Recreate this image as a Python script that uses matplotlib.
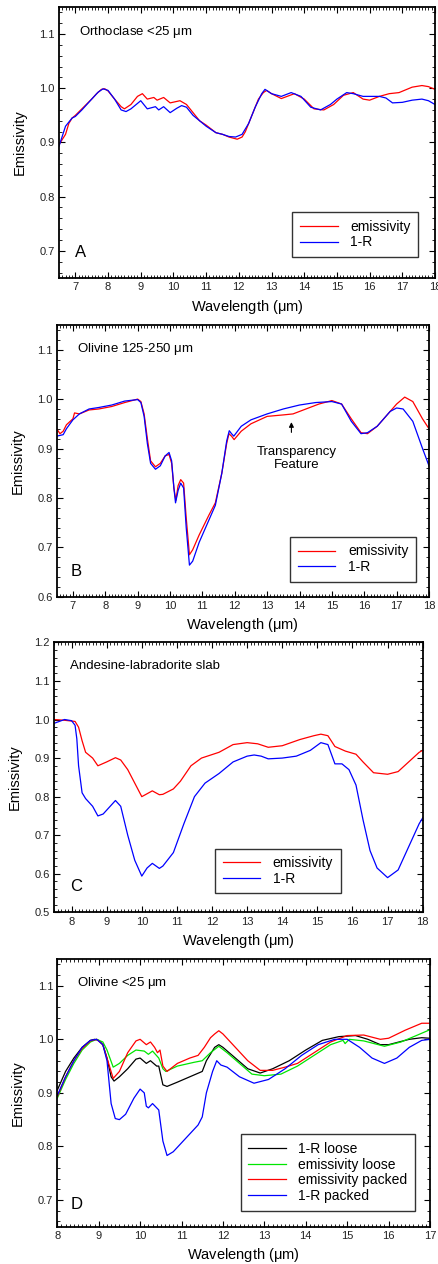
import matplotlib
matplotlib.use("Agg")
import matplotlib.pyplot as plt
from matplotlib.ticker import MultipleLocator
import numpy as np

plt.rcParams['font.family'] = ['Liberation Sans', 'DejaVu Sans']
plt.rcParams['mathtext.fontset'] = 'custom'
plt.rcParams['mathtext.rm'] = 'Liberation Sans'

# ---- Panel A: Orthoclase <25 um ----
a_emis_x = [6.5, 6.7, 6.8, 6.9, 7.0, 7.2, 7.5, 7.65, 7.8, 7.9, 8.0, 8.2, 8.4, 8.5, 8.7, 8.9, 9.05, 9.2, 9.4, 9.5,
            9.7, 9.9, 10.2, 10.4, 10.6, 10.8, 11.0, 11.3, 11.5, 11.7, 11.95, 12.1, 12.2, 12.4, 12.6, 12.75, 12.85,
            13.0, 13.3, 13.7, 14.0, 14.3, 14.6, 14.9, 15.2, 15.5, 15.8, 16.0, 16.3, 16.6, 16.9, 17.3,
            17.6, 17.8, 18.0]
a_emis_y = [0.896, 0.915, 0.935, 0.945, 0.95, 0.962, 0.98, 0.99, 0.998, 0.999, 0.995, 0.98, 0.966, 0.962, 0.97, 0.985,
            0.99, 0.98, 0.983, 0.978, 0.983, 0.973, 0.977, 0.97, 0.955, 0.94, 0.932, 0.918, 0.915, 0.91,
            0.906, 0.91, 0.92, 0.95, 0.98, 0.992, 0.996, 0.99, 0.981, 0.99, 0.98, 0.962, 0.96, 0.97, 0.987, 0.992,
            0.98, 0.978, 0.985, 0.99, 0.992, 1.002, 1.005, 1.003, 0.998]
a_1r_x = [6.5, 6.7, 6.9, 7.0, 7.2, 7.5, 7.7, 7.85, 8.0, 8.2, 8.4, 8.55, 8.7, 8.9, 9.0, 9.2, 9.45, 9.55, 9.7,
          9.9, 10.1, 10.25, 10.4, 10.6, 10.8, 11.0, 11.3, 11.5, 11.7, 11.9, 12.1, 12.3, 12.5, 12.7, 12.8,
          13.0, 13.3, 13.6, 13.9, 14.2, 14.5, 14.8, 15.0, 15.3, 15.5, 15.8, 16.3, 16.5, 16.7, 17.0,
          17.3, 17.6, 17.8, 18.0]
a_1r_y = [0.893, 0.93, 0.945, 0.948, 0.96, 0.98, 0.993, 0.999, 0.996, 0.98, 0.96, 0.957, 0.962, 0.972, 0.977,
          0.962, 0.966, 0.96, 0.966, 0.955, 0.963, 0.968, 0.965, 0.95, 0.94, 0.93, 0.918, 0.915, 0.911,
          0.91, 0.915, 0.935, 0.965, 0.99, 0.998, 0.99, 0.985, 0.992, 0.985, 0.965, 0.96, 0.97, 0.98,
          0.992, 0.99, 0.985, 0.985, 0.982, 0.973, 0.974, 0.978, 0.98, 0.977, 0.97]

# ---- Panel B: Olivine 125-250 um ----
b_emis_x = [6.5, 6.6, 6.7, 6.8, 7.0, 7.05, 7.2, 7.5, 7.8, 8.2, 8.6, 9.0, 9.1, 9.2, 9.3, 9.4, 9.55, 9.7,
            9.85, 9.97, 10.05, 10.12, 10.18, 10.25, 10.33, 10.42, 10.5, 10.6, 10.7, 10.9, 11.2, 11.4,
            11.6, 11.75, 11.82, 11.9, 11.98, 12.2, 12.5, 13.0, 13.5, 13.8, 14.2, 14.6, 15.0, 15.3, 15.6,
            15.9, 16.1, 16.4, 16.8, 17.0, 17.25, 17.5, 17.8, 18.0]
b_emis_y = [0.94, 0.93, 0.935, 0.948, 0.96, 0.972, 0.97, 0.978, 0.98, 0.985, 0.993, 1.0, 0.995, 0.97,
            0.92, 0.875, 0.863, 0.87, 0.885, 0.888, 0.87, 0.82, 0.795, 0.825, 0.837, 0.83, 0.76, 0.685,
            0.695, 0.725, 0.765, 0.79, 0.85, 0.91, 0.93, 0.925, 0.918, 0.935, 0.95, 0.965, 0.968, 0.97,
            0.98, 0.99, 0.997, 0.99, 0.96, 0.932, 0.93, 0.945, 0.975, 0.99, 1.004, 0.995, 0.96, 0.94]
b_1r_x = [6.5, 6.7, 6.8, 7.0, 7.2, 7.5, 7.8, 8.2, 8.6, 9.0, 9.1, 9.2, 9.3, 9.4, 9.55, 9.7, 9.85, 9.97,
          10.05, 10.12, 10.17, 10.25, 10.33, 10.42, 10.5, 10.6, 10.7, 10.9, 11.2, 11.4, 11.6, 11.75,
          11.83, 11.9, 11.97, 12.2, 12.5, 13.0, 13.5, 14.0, 14.5, 15.0, 15.3, 15.6, 15.9, 16.1, 16.4,
          16.8, 17.0, 17.2, 17.5, 17.8, 18.0]
b_1r_y = [0.925, 0.928, 0.94, 0.958, 0.97, 0.98, 0.983, 0.988, 0.996, 0.999, 0.993, 0.965, 0.91, 0.87,
          0.858, 0.865, 0.885, 0.892, 0.875, 0.82, 0.79, 0.815, 0.83, 0.82, 0.74, 0.664, 0.672, 0.71,
          0.755, 0.785, 0.85, 0.915, 0.936, 0.93, 0.925, 0.945, 0.958, 0.97, 0.98, 0.988, 0.993, 0.995,
          0.99, 0.955, 0.93, 0.932, 0.945, 0.975, 0.982, 0.98, 0.955, 0.9, 0.865]

# ---- Panel C: Andesine-labradorite slab ----
c_emis_x = [7.5, 7.8, 8.1, 8.2, 8.3, 8.4, 8.6, 8.75, 9.0, 9.25, 9.4, 9.6, 9.8, 10.0, 10.1, 10.3, 10.5,
            10.6, 10.9, 11.1, 11.4, 11.7, 12.2, 12.6, 13.0, 13.3, 13.6, 14.0, 14.5, 14.9, 15.1, 15.3,
            15.5, 15.8, 16.1, 16.3, 16.6, 17.0, 17.3, 17.6, 17.9, 18.0]
c_emis_y = [1.0, 0.998, 0.995, 0.98, 0.945, 0.915, 0.9, 0.88, 0.89, 0.901, 0.895, 0.87, 0.835, 0.8,
            0.805, 0.815, 0.805, 0.806, 0.82, 0.84, 0.88, 0.9, 0.915, 0.935, 0.94, 0.937, 0.928, 0.932,
            0.948, 0.958, 0.962, 0.958, 0.93, 0.918, 0.91, 0.89, 0.862, 0.858, 0.865, 0.89, 0.915, 0.92]
c_1r_x = [7.5, 7.8, 8.0, 8.1, 8.15, 8.2, 8.3, 8.4, 8.6, 8.75, 8.9, 9.1, 9.25, 9.4, 9.6, 9.8, 10.0, 10.15,
          10.3, 10.5, 10.6, 10.9, 11.2, 11.5, 11.8, 12.2, 12.6, 13.0, 13.2, 13.4, 13.6, 14.0, 14.4, 14.8,
          15.1, 15.3, 15.5, 15.7, 15.9, 16.1, 16.3, 16.5, 16.7, 17.0, 17.3, 17.6, 17.9, 18.0]
c_1r_y = [0.99, 1.0, 0.997, 0.985, 0.95, 0.88, 0.81, 0.795, 0.775, 0.75, 0.755, 0.775, 0.79, 0.775, 0.7,
          0.635, 0.594, 0.615, 0.627, 0.614, 0.62, 0.655, 0.73, 0.8, 0.835, 0.86, 0.89, 0.905, 0.908,
          0.905, 0.898, 0.9, 0.905, 0.92, 0.94, 0.935, 0.885, 0.885, 0.87, 0.83, 0.74, 0.66, 0.615, 0.59,
          0.61, 0.67, 0.73, 0.745]

# ---- Panel D: Olivine <25 um ----
d_1r_loose_x = [8.0, 8.2, 8.4, 8.6, 8.8, 8.9, 9.0, 9.1, 9.2, 9.3, 9.37, 9.5, 9.7, 9.9, 10.0, 10.15, 10.25,
                10.4, 10.45, 10.55, 10.65, 10.9, 11.2, 11.5, 11.6, 11.8, 11.9, 12.0, 12.3, 12.6, 12.9,
                13.2, 13.6, 14.0, 14.4, 14.8, 15.2, 15.5, 15.8, 16.0, 16.5, 16.8, 17.0]
d_1r_loose_y = [0.905, 0.94, 0.965, 0.985, 0.998, 1.0, 0.998, 0.99, 0.965, 0.93, 0.922, 0.93, 0.945, 0.963,
                0.965, 0.955, 0.96, 0.95, 0.95, 0.915, 0.912, 0.92, 0.93, 0.94, 0.96, 0.985, 0.99, 0.985,
                0.965, 0.945, 0.937, 0.945, 0.96, 0.98, 0.998, 1.005, 1.007, 1.0, 0.99, 0.99, 1.0, 1.003,
                1.002]
d_emis_loose_x = [8.0, 8.2, 8.4, 8.6, 8.8, 8.95, 9.1, 9.2, 9.35, 9.5, 9.7, 9.9, 10.1, 10.2, 10.3, 10.45,
                  10.55, 10.62, 10.9, 11.3, 11.5, 11.7, 11.9, 12.1, 12.4, 12.7, 13.0, 13.4, 13.8, 14.2,
                  14.6, 14.9, 14.95, 15.05, 15.4, 15.9, 16.3, 16.7, 17.0]
d_emis_loose_y = [0.89, 0.925, 0.955, 0.98, 0.995, 1.0, 0.995, 0.98, 0.948, 0.955, 0.97, 0.98, 0.978,
                  0.972, 0.978, 0.965, 0.945, 0.94, 0.95, 0.957, 0.96, 0.975, 0.987, 0.975, 0.955, 0.935,
                  0.932, 0.935, 0.95, 0.97, 0.99, 0.998, 0.992, 1.0, 0.997, 0.987, 0.995, 1.008, 1.018]
d_emis_packed_x = [8.0, 8.2, 8.4, 8.6, 8.8, 8.95, 9.1, 9.2, 9.35, 9.5, 9.7, 9.9, 10.0, 10.15, 10.25,
                   10.35, 10.42, 10.48, 10.55, 10.65, 10.9, 11.2, 11.4, 11.55, 11.7, 11.8, 11.9, 12.0,
                   12.3, 12.6, 12.9, 13.2, 13.5, 13.8, 14.2, 14.6, 15.0, 15.4, 15.8, 16.0, 16.4, 16.8, 17.0]
d_emis_packed_y = [0.893, 0.93, 0.96, 0.983, 0.997, 1.0, 0.99, 0.965, 0.927, 0.94, 0.975, 0.997, 1.0,
                   0.99, 0.995, 0.985, 0.975, 0.98, 0.95, 0.94, 0.955, 0.965, 0.97, 0.985, 1.003, 1.01,
                   1.016, 1.01, 0.985, 0.96, 0.942, 0.942, 0.948, 0.955, 0.975, 0.995, 1.007, 1.008, 1.0,
                   1.002, 1.017, 1.03, 1.03]
d_1r_packed_x = [8.0, 8.2, 8.4, 8.6, 8.8, 8.95, 9.1, 9.2, 9.25, 9.3, 9.4, 9.5, 9.65, 9.85, 10.0, 10.1,
                 10.15, 10.2, 10.3, 10.4, 10.45, 10.55, 10.65, 10.8, 11.1, 11.4, 11.5, 11.6, 11.75, 11.85,
                 11.95, 12.1, 12.4, 12.75, 13.1, 13.5, 13.9, 14.3, 14.7, 15.0, 15.3, 15.6, 15.9, 16.2,
                 16.5, 16.8, 17.0]
d_1r_packed_y = [0.895, 0.93, 0.96, 0.985, 0.998, 1.0, 0.99, 0.96, 0.92, 0.88, 0.852, 0.85, 0.86, 0.89,
                 0.907, 0.9, 0.875, 0.872, 0.88, 0.872, 0.868, 0.81, 0.783, 0.79, 0.815, 0.84, 0.855, 0.9,
                 0.94, 0.96, 0.952, 0.948, 0.93, 0.918, 0.925, 0.945, 0.97, 0.99, 1.0, 1.0, 0.985, 0.965,
                 0.955, 0.965, 0.985, 0.998, 1.0]

GREEN = '#00e600'
LW = 0.9


def style(ax, xlim, ylim, yticks, xticks):
    ax.set_xlim(*xlim)
    ax.set_ylim(*ylim)
    ax.set_xticks(xticks)
    ax.set_yticks(yticks)
    ax.xaxis.set_minor_locator(MultipleLocator(0.1))
    ax.yaxis.set_minor_locator(MultipleLocator(0.02))
    ax.tick_params(which='both', direction='in', top=True, right=True, labelsize=8, pad=3,
                   color='black', labelcolor='#222222')
    ax.tick_params(which='major', length=4.5, width=0.8)
    ax.tick_params(which='minor', length=2, width=0.6)
    for s in ax.spines.values():
        s.set_linewidth(1.3)
    ax.set_xlabel('Wavelength ($\\mathrm{\\mu}$m)', fontsize=10.5, labelpad=4)
    ax.set_ylabel('Emissivity', fontsize=10.5, labelpad=9)
    ax.yaxis.set_major_formatter(plt.FuncFormatter(lambda v, p: f'{v:.1f}'))


def legend(ax, anchor):
    leg = ax.legend(loc='lower right', bbox_to_anchor=anchor, fontsize=10, frameon=True, fancybox=False,
                    edgecolor='black', handlelength=2.7, borderpad=0.55, labelspacing=0.12,
                    handletextpad=0.9, borderaxespad=0)
    leg.get_frame().set_linewidth(1.0)


fig = plt.figure(figsize=(4.39, 12.64), dpi=100)

# A
ax = fig.add_axes([0.1344, 0.7801, 0.8565, 0.2144])
ax.plot(a_emis_x, a_emis_y, color='red', lw=LW, label='emissivity')
ax.plot(a_1r_x, a_1r_y, color='blue', lw=LW, label='1-R')
style(ax, (6.5, 18), (0.65, 1.15), [0.7, 0.8, 0.9, 1.0, 1.1], range(7, 19))
legend(ax, (0.955, 0.077))
ax.text(0.053, 0.909, 'Orthoclase <25 $\\mathrm{\\mu}$m', transform=ax.transAxes, fontsize=9.5, va='center')
ax.text(0.043, 0.093, 'A', transform=ax.transAxes, fontsize=12, va='center')

# B
ax = fig.add_axes([0.1292, 0.5279, 0.848, 0.2150])
ax.plot(b_emis_x, b_emis_y, color='red', lw=LW, label='emissivity')
ax.plot(b_1r_x, b_1r_y, color='blue', lw=LW, label='1-R')
style(ax, (6.5, 18), (0.6, 1.15), [0.6, 0.7, 0.8, 0.9, 1.0, 1.1], range(7, 19))
legend(ax, (0.965, 0.055))
ax.text(0.054, 0.91, 'Olivine 125-250 $\\mathrm{\\mu}$m', transform=ax.transAxes, fontsize=9.5, va='center')
ax.text(0.038, 0.092, 'B', transform=ax.transAxes, fontsize=12, va='center')
ax.annotate('', xy=(13.75, 0.959), xytext=(13.75, 0.927),
            arrowprops=dict(arrowstyle='-|>', color='black', lw=0.8, mutation_scale=7))
ax.text(13.9, 0.88, 'Transparency\nFeature', ha='center', va='center', fontsize=9.5, linespacing=1.1)

# C
ax = fig.add_axes([0.123, 0.2782, 0.8399, 0.2136])
ax.plot(c_emis_x, c_emis_y, color='red', lw=LW, label='emissivity')
ax.plot(c_1r_x, c_1r_y, color='blue', lw=LW, label='1-R')
style(ax, (7.5, 18), (0.5, 1.2), [0.5, 0.6, 0.7, 0.8, 0.9, 1.0, 1.1, 1.2], range(8, 19))
legend(ax, (0.778, 0.07))
ax.text(0.043, 0.912, 'Andesine-labradorite slab', transform=ax.transAxes, fontsize=9.5, va='center')
ax.text(0.045, 0.097, 'C', transform=ax.transAxes, fontsize=12, va='center')

# D
ax = fig.add_axes([0.1305, 0.0295, 0.849, 0.2118])
ax.plot(d_1r_loose_x, d_1r_loose_y, color='black', lw=LW, label='1-R loose')
ax.plot(d_emis_loose_x, d_emis_loose_y, color=GREEN, lw=LW, label='emissivity loose')
ax.plot(d_emis_packed_x, d_emis_packed_y, color='red', lw=LW, label='emissivity packed')
ax.plot(d_1r_packed_x, d_1r_packed_y, color='blue', lw=LW, label='1-R packed')
style(ax, (8, 17), (0.65, 1.15), [0.7, 0.8, 0.9, 1.0, 1.1], range(8, 18))
legend(ax, (0.96, 0.06))
ax.text(0.054, 0.909, 'Olivine <25 $\\mathrm{\\mu}$m', transform=ax.transAxes, fontsize=9.5, va='center')
ax.text(0.036, 0.084, 'D', transform=ax.transAxes, fontsize=12, va='center')

fig.savefig('out.png', dpi=100)
